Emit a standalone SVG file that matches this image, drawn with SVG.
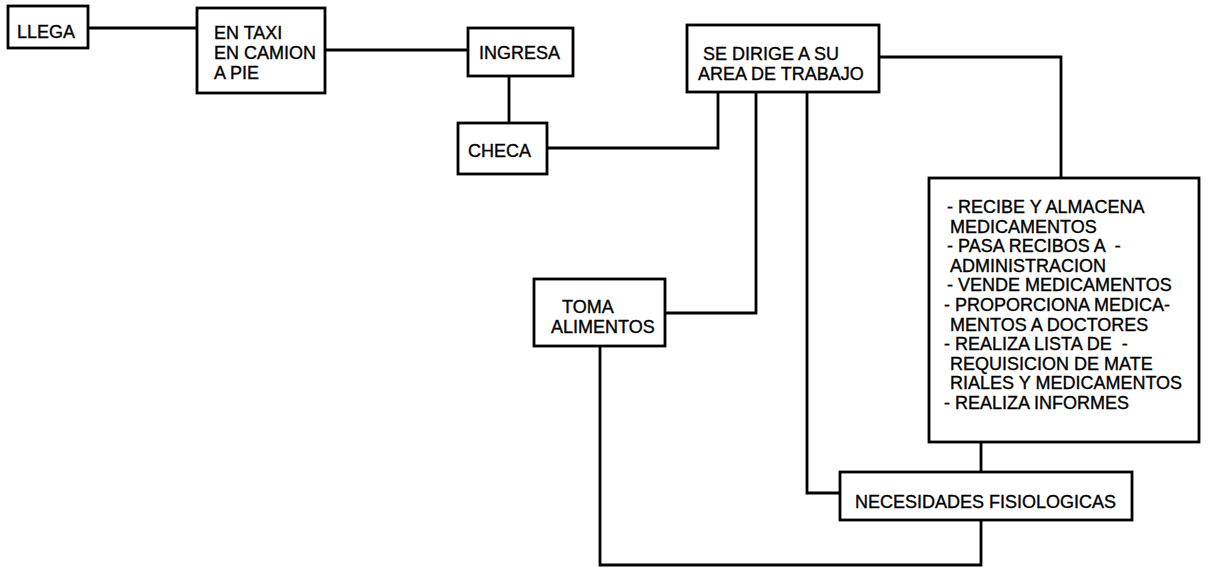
<svg xmlns="http://www.w3.org/2000/svg" width="1208" height="568" viewBox="0 0 1208 568">
<style>
.box{fill:#fff;stroke:#000;stroke-width:2.8}
.c{fill:none;stroke:#000;stroke-width:2.8}
text{font-family:"Liberation Sans",Arial,sans-serif;font-size:18px;fill:#000;stroke:#000;stroke-width:0.35}
</style>
<rect width="1208" height="568" fill="#fff"/>
<g id="connectors">
<path class="c" d="M88,28H197"/>
<path class="c" d="M325,50H468"/>
<path class="c" d="M509,76V123"/>
<path class="c" d="M547,148H718V92"/>
<path class="c" d="M756,92V313H665"/>
<path class="c" d="M807,92V493H840"/>
<path class="c" d="M879,57H1061V178"/>
<path class="c" d="M981,442V472"/>
<path class="c" d="M981,520V565H600V346"/>
</g>
<g id="llega"><rect class="box" x="8" y="6" width="80" height="42"/><text x="17" y="38">LLEGA</text></g>
<g id="transporte"><rect class="box" x="197" y="8" width="128" height="85"/><text x="214" y="39">EN TAXI</text><text x="214" y="59">EN CAMION</text><text x="214" y="79">A PIE</text></g>
<g id="ingresa"><rect class="box" x="468" y="28" width="105" height="48"/><text x="479" y="59">INGRESA</text></g>
<g id="checa"><rect class="box" x="458" y="123" width="89" height="51"/><text x="468" y="157">CHECA</text></g>
<g id="dirige"><rect class="box" x="687" y="25" width="192" height="67"/><text x="703" y="60">SE DIRIGE A SU</text><text x="698" y="80">AREA DE TRABAJO</text></g>
<g id="toma"><rect class="box" x="534" y="279" width="131" height="67"/><text x="562" y="313">TOMA</text><text x="551" y="333">ALIMENTOS</text></g>
<g id="actividades"><rect class="box" x="929" y="178" width="270" height="264"/>
<text x="947" y="213">- RECIBE Y ALMACENA</text>
<text x="950" y="232.6">MEDICAMENTOS</text>
<text x="947" y="252.2">- PASA RECIBOS A &#160;-</text>
<text x="950" y="271.8">ADMINISTRACION</text>
<text x="947" y="291.4">- VENDE MEDICAMENTOS</text>
<text x="944" y="311">- PROPORCIONA MEDICA-</text>
<text x="950" y="330.6">MENTOS A DOCTORES</text>
<text x="944" y="350.2">- REALIZA LISTA DE &#160;-</text>
<text x="950" y="369.8">REQUISICION DE MATE</text>
<text x="950" y="389.4">RIALES Y MEDICAMENTOS</text>
<text x="944" y="409">- REALIZA INFORMES</text>
</g>
<g id="necesidades"><rect class="box" x="840" y="472" width="292" height="48"/><text x="855" y="508">NECESIDADES FISIOLOGICAS</text></g>
</svg>
